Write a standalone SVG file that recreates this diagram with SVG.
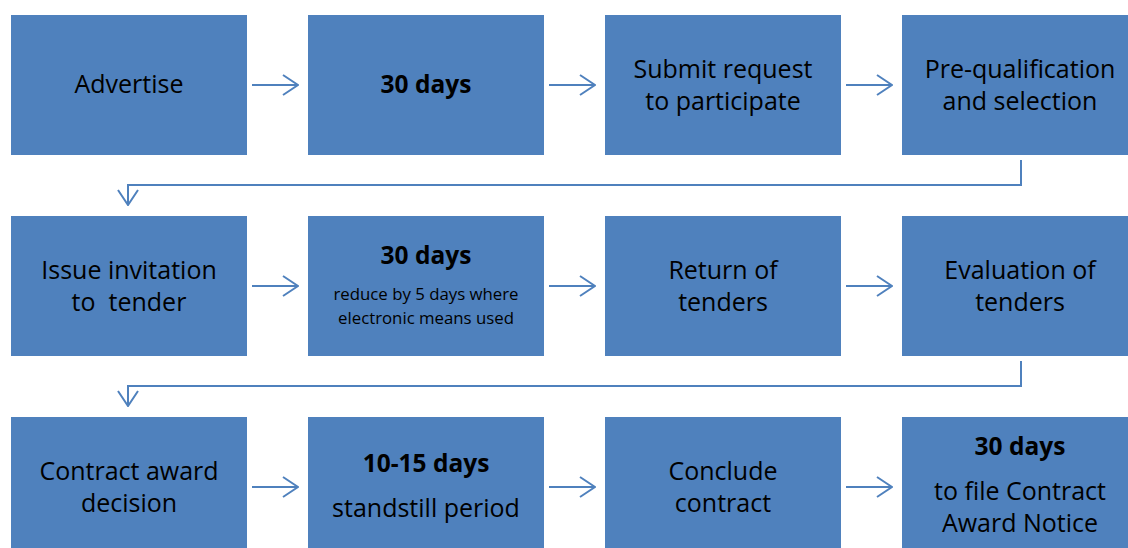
<svg xmlns="http://www.w3.org/2000/svg" width="1128" height="548" viewBox="0 0 1128 548">
<defs>
<style>
.box{fill:#4F81BD;}
.t{font-family:"Open Sans","Liberation Sans",sans-serif;font-size:25px;fill:#000;text-anchor:middle;}
.b{font-weight:bold;font-size:24.5px;}
.s{font-size:16.8px;}
.c{fill:none;stroke:#4F81BD;stroke-width:2;}
</style>
<marker id="ah" viewBox="0 0 20 24" refX="19" refY="12" markerWidth="20" markerHeight="24" markerUnits="userSpaceOnUse" orient="auto">
<path d="M4,2 L19,12 L4,22" fill="none" stroke="#4F81BD" stroke-width="2"/>
</marker>
</defs>
<rect width="1128" height="548" fill="#fff"/>
<g id="n1"><rect class="box" x="11" y="15" width="236" height="140"/><text class="t" x="129" y="93">Advertise</text></g>
<g id="n2"><rect class="box" x="308" y="15" width="236" height="140"/><text class="t b" x="426" y="93">30 days</text></g>
<g id="n3"><rect class="box" x="605" y="15" width="236" height="140"/><text class="t" x="723" y="78">Submit request</text><text class="t" x="723" y="110">to participate</text></g>
<g id="n4"><rect class="box" x="902" y="15" width="236" height="140"/><text class="t" x="1020" y="78">Pre-qualification</text><text class="t" x="1020" y="110">and selection</text></g>
<g id="n5"><rect class="box" x="11" y="216" width="236" height="140"/><text class="t" x="129" y="279">Issue invitation</text><text class="t" x="129" y="311" xml:space="preserve">to  tender</text></g>
<g id="n6"><rect class="box" x="308" y="216" width="236" height="140"/><text class="t b" x="426" y="264">30 days</text><text class="t s" x="426" y="300">reduce by 5 days where</text><text class="t s" x="426" y="323.5">electronic means used</text></g>
<g id="n7"><rect class="box" x="605" y="216" width="236" height="140"/><text class="t" x="723" y="279">Return of</text><text class="t" x="723" y="311">tenders</text></g>
<g id="n8"><rect class="box" x="902" y="216" width="236" height="140"/><text class="t" x="1020" y="279">Evaluation of</text><text class="t" x="1020" y="311">tenders</text></g>
<g id="n9"><rect class="box" x="11" y="417" width="236" height="140"/><text class="t" x="129" y="480">Contract award</text><text class="t" x="129" y="512">decision</text></g>
<g id="n10"><rect class="box" x="308" y="417" width="236" height="140"/><text class="t b" x="426" y="472">10-15 days</text><text class="t" x="426" y="517">standstill period</text></g>
<g id="n11"><rect class="box" x="605" y="417" width="236" height="140"/><text class="t" x="723" y="480">Conclude</text><text class="t" x="723" y="512">contract</text></g>
<g id="n12"><rect class="box" x="902" y="417" width="236" height="140"/><text class="t b" x="1020" y="455">30 days</text><text class="t" x="1020" y="500">to file Contract</text><text class="t" x="1020" y="532">Award Notice</text></g>
<g id="connectors">
<line class="c" x1="252" y1="85" x2="298" y2="85" marker-end="url(#ah)"/>
<line class="c" x1="549" y1="85" x2="595" y2="85" marker-end="url(#ah)"/>
<line class="c" x1="846" y1="85" x2="892" y2="85" marker-end="url(#ah)"/>
<line class="c" x1="252" y1="286" x2="298" y2="286" marker-end="url(#ah)"/>
<line class="c" x1="549" y1="286" x2="595" y2="286" marker-end="url(#ah)"/>
<line class="c" x1="846" y1="286" x2="892" y2="286" marker-end="url(#ah)"/>
<line class="c" x1="252" y1="487" x2="298" y2="487" marker-end="url(#ah)"/>
<line class="c" x1="549" y1="487" x2="595" y2="487" marker-end="url(#ah)"/>
<line class="c" x1="846" y1="487" x2="892" y2="487" marker-end="url(#ah)"/>
<path class="c" d="M1021,160 V185 H128 V205" marker-end="url(#ah)"/>
<path class="c" d="M1021,361 V386 H128 V406" marker-end="url(#ah)"/>
</g>
</svg>
